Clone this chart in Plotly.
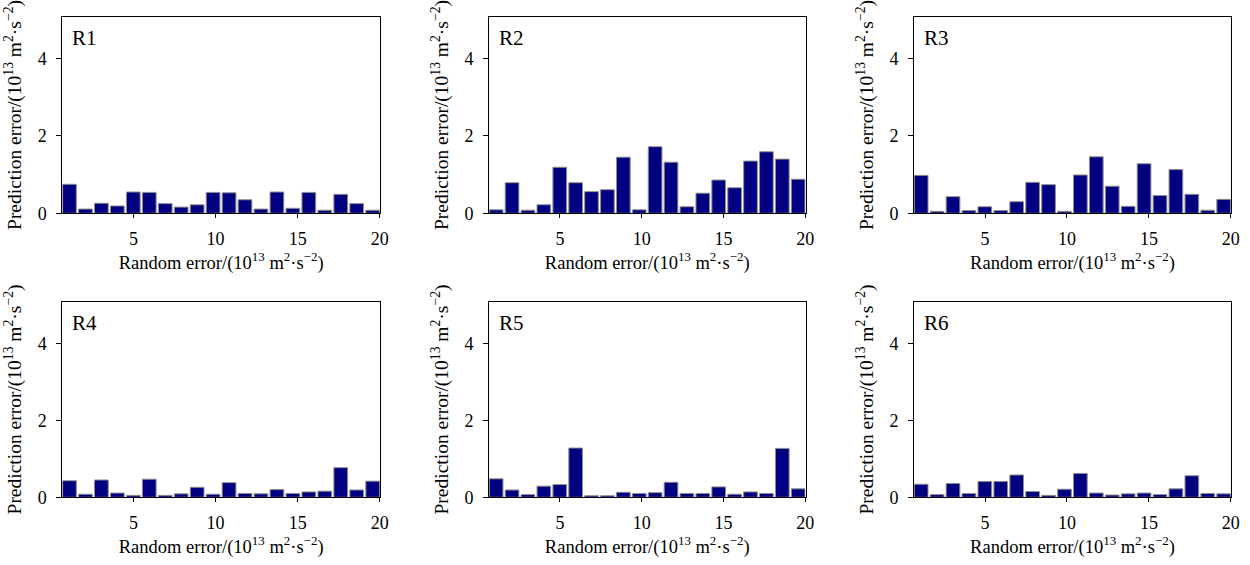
import plotly.graph_objects as go
from plotly.subplots import make_subplots

x_bins = list(range(1, 21))
panel_names = ["R1", "R2", "R3", "R4", "R5", "R6"]

r1 = [0.75, 0.11, 0.26, 0.19, 0.55, 0.54, 0.25, 0.16, 0.22, 0.54,
      0.53, 0.35, 0.11, 0.55, 0.13, 0.54, 0.08, 0.49, 0.25, 0.08]
r2 = [0.09, 0.79, 0.08, 0.22, 1.19, 0.79, 0.56, 0.61, 1.45, 0.09,
      1.72, 1.32, 0.17, 0.52, 0.86, 0.66, 1.35, 1.59, 1.40, 0.88]
r3 = [0.98, 0.05, 0.43, 0.07, 0.17, 0.07, 0.30, 0.80, 0.74, 0.05,
      0.99, 1.46, 0.70, 0.18, 1.28, 0.46, 1.13, 0.49, 0.08, 0.36]
r4 = [0.43, 0.08, 0.45, 0.11, 0.05, 0.47, 0.05, 0.09, 0.26, 0.08,
      0.38, 0.10, 0.09, 0.20, 0.10, 0.14, 0.16, 0.77, 0.19, 0.42]
r5 = [0.48, 0.19, 0.07, 0.29, 0.33, 1.28, 0.04, 0.04, 0.13, 0.10,
      0.12, 0.39, 0.10, 0.10, 0.27, 0.08, 0.14, 0.10, 1.27, 0.22]
r6 = [0.34, 0.07, 0.36, 0.10, 0.41, 0.41, 0.58, 0.15, 0.05, 0.21,
      0.62, 0.11, 0.06, 0.09, 0.11, 0.07, 0.22, 0.56, 0.10, 0.09]
series = [r1, r2, r3, r4, r5, r6]

x_tick_labels = [5, 10, 15, 20]
y_tick_vals = [0, 2, 4]

# axis scale of the original: labels run from ~0.667 to 20 across the bar span
bar_lo, bar_hi = 0.55, 20.45
lab_lo, lab_hi = 0.667, 20.0
def lab_to_bar(t):
    return bar_lo + (t - lab_lo) * (bar_hi - bar_lo) / (lab_hi - lab_lo)

W, H = 1250, 565
col_px = [(62.3, 380.0), (489.0, 805.5), (914.0, 1231.0)]
row_px = [(16.7, 213.3), (301.7, 497.3)]
Y_MAX = 5.08

FONT = "Liberation Serif"
xtitle = "Random error/(10<sup>13</sup> m<sup>2</sup>·s<sup>−2</sup>)"
ytitle = "Prediction error/(10<sup>13</sup> m<sup>2</sup>·s<sup>−2</sup>)"

fig = make_subplots(rows=2, cols=3)
for i, vals in enumerate(series):
    r, c = i // 3 + 1, i % 3 + 1
    fig.add_trace(go.Bar(x=x_bins, y=vals,
                         marker=dict(color="#000080",
                                     line=dict(color="#8f8f8f", width=1)),
                         showlegend=False),
                  row=r, col=c)

annotations = []
extra_axes = {}
for i in range(6):
    r, c = i // 3, i % 3
    x0, x1 = col_px[c]
    y0, y1 = row_px[r]
    xd = [x0 / W, x1 / W]
    yd = [1 - y1 / H, 1 - y0 / H]
    n = "" if i == 0 else str(i + 1)
    fig.layout["xaxis" + n].update(
        domain=xd, range=[bar_lo, bar_hi + 0.01],
        tickvals=[lab_to_bar(t) for t in x_tick_labels],
        ticktext=[str(t) for t in x_tick_labels],
        ticks="outside", ticklen=4, tickcolor="black",
        ticklabelstandoff=5,
        showline=True, linecolor="black", linewidth=1, mirror=True,
        showgrid=False, zeroline=False,
        tickfont=dict(family=FONT, size=18, color="black"),
        title=dict(text=xtitle, font=dict(family=FONT, size=18.5, color="black"),
                   standoff=6),
        automargin=False)
    fig.layout["yaxis" + n].update(
        domain=yd, range=[0, Y_MAX],
        tickvals=y_tick_vals,
        ticks="outside", ticklen=5, tickcolor="black",
        ticklabelstandoff=6,
        showline=True, linecolor="black", linewidth=1, mirror=True,
        showgrid=False, zeroline=False,
        tickfont=dict(family=FONT, size=18, color="black"),
        title=dict(text=ytitle, font=dict(family=FONT, size=19.5, color="black"),
                   standoff=10),
        automargin=False)
    # inward ticks on the right-hand frame
    extra_axes["yaxis" + str(7 + i)] = dict(
        overlaying="y" + n, anchor="x" + n, side="right", domain=yd,
        range=[0, Y_MAX], tickvals=[v for v in y_tick_vals if v > 0],
        ticks="inside", ticklen=4, tickcolor="black", showticklabels=False,
        showgrid=False, zeroline=False, showline=False)
    annotations.append(dict(text=panel_names[i], xref="x" + n + " domain",
                            yref="y" + n + " domain", x=0.025, y=0.965,
                            xanchor="left", yanchor="top", showarrow=False,
                            font=dict(family=FONT, size=21, color="black")))

fig.update_layout(width=W, height=H, margin=dict(l=0, r=0, t=0, b=0),
                  plot_bgcolor="white", paper_bgcolor="white",
                  bargap=0.14, annotations=annotations, **extra_axes)
fig.write_html("out.html", config={"displayModeBar": False},
               post_script="document.body.style.margin='0px';")
